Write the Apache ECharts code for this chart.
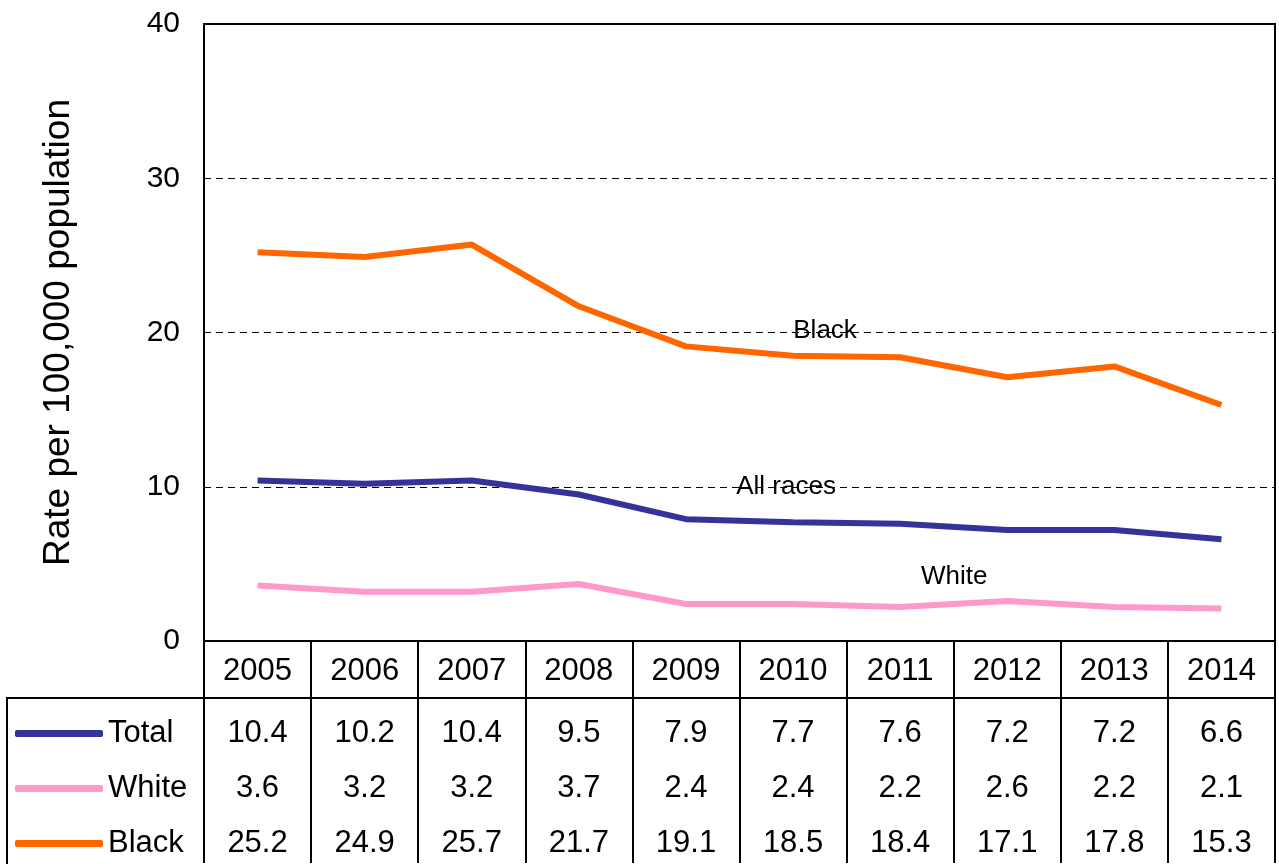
<!DOCTYPE html>
<html>
<head>
<meta charset="utf-8">
<script src="https://cdn.jsdelivr.net/npm/echarts@6/dist/echarts.min.js"></script>
<style>
html,body{margin:0;padding:0;background:#fff;}
#chart{width:1279px;height:864px;}
</style>
</head>
<body>
<div id="chart"></div>
<script>
var years = ['2005','2006','2007','2008','2009','2010','2011','2012','2013','2014'];
var totalRates = [10.4, 10.2, 10.4, 9.5, 7.9, 7.7, 7.6, 7.2, 7.2, 6.6];
var whiteRates = [3.6, 3.2, 3.2, 3.7, 2.4, 2.4, 2.2, 2.6, 2.2, 2.1];
var blackRates = [25.2, 24.9, 25.7, 21.7, 19.1, 18.5, 18.4, 17.1, 17.8, 15.3];
var seriesNames = ['Total', 'White', 'Black'];
var yTicks = [0, 10, 20, 30, 40];

var FONT = '"Liberation Sans", Arial, sans-serif';
var fmt = function (v) { return v.toFixed(1); };

var chart = echarts.init(document.getElementById('chart'));

function rowAxis(values, offset) {
  return {
    type: 'category',
    gridIndex: 0,
    position: 'bottom',
    offset: offset,
    data: values.map(fmt),
    boundaryGap: true,
    axisLine: { show: false },
    axisTick: { show: true, length: 55, interval: 0, lineStyle: { color: '#000', width: 2 } },
    axisLabel: { interval: 0, fontSize: 31, color: '#000', fontFamily: FONT, margin: 20 },
    splitLine: { show: false }
  };
}

var option = {
  backgroundColor: '#fff',
  animation: false,
  textStyle: { fontFamily: FONT },
  grid: { left: 204, right: 4, top: 24, bottom: 223, show: true, borderColor: '#000', borderWidth: 2, backgroundColor: 'transparent' },
  legend: {
    orient: 'vertical',
    left: 10,
    top: 713,
    icon: 'roundRect',
    itemWidth: 88,
    itemHeight: 7,
    itemGap: 24,
    data: seriesNames,
    textStyle: { fontSize: 31, color: '#000', fontFamily: FONT, lineHeight: 31 },
    selectedMode: false
  },
  xAxis: [
    {
      type: 'category',
      data: years,
      boundaryGap: true,
      axisLine: { show: true, lineStyle: { color: '#000', width: 2 } },
      axisTick: { show: true, length: 57, interval: 0, lineStyle: { color: '#000', width: 2 } },
      axisLabel: { interval: 0, fontSize: 31, color: '#000', fontFamily: FONT, margin: 15 },
      splitLine: { show: false }
    },
    Object.assign(rowAxis(totalRates, 57), { axisLine: { show: true, lineStyle: { color: '#000', width: 2 } } }),
    rowAxis(whiteRates, 112),
    rowAxis(blackRates, 167)
  ],
  yAxis: {
    type: 'value',
    min: yTicks[0],
    max: yTicks[yTicks.length - 1],
    interval: 10,
    name: 'Rate per 100,000 population',
    nameLocation: 'middle',
    nameGap: 127,
    nameTextStyle: { fontSize: 37, color: '#000', fontFamily: FONT },
    axisLine: { show: false },
    axisTick: { show: false },
    axisLabel: { fontSize: 30, color: '#000', fontFamily: FONT, margin: 24 },
    splitLine: { show: true, lineStyle: { color: '#000', width: 1, type: [7, 5] } }
  },
  graphic: [
    { type: 'line', shape: { x1: 7, y1: 698, x2: 205, y2: 698 }, style: { stroke: '#000', lineWidth: 2 } },
    { type: 'line', shape: { x1: 7, y1: 697, x2: 7, y2: 864 }, style: { stroke: '#000', lineWidth: 2 } }
  ],
  series: [
    {
      name: 'Total', type: 'line', xAxisIndex: 0, data: totalRates,
      symbol: 'none', lineStyle: { color: '#333399', width: 6 }, itemStyle: { color: '#333399' },
      markPoint: {
        symbol: 'rect', symbolSize: 1, itemStyle: { color: 'rgba(0,0,0,0)' },
        label: { show: true, position: 'inside', formatter: 'All races', color: '#000', fontSize: 26, fontFamily: FONT, offset: [-7, 0] },
        data: [{ coord: ['2010', 10] }]
      }
    },
    {
      name: 'White', type: 'line', xAxisIndex: 0, data: whiteRates,
      symbol: 'none', lineStyle: { color: '#FF99CC', width: 6 }, itemStyle: { color: '#FF99CC' },
      markPoint: {
        symbol: 'rect', symbolSize: 1, itemStyle: { color: 'rgba(0,0,0,0)' },
        label: { show: true, position: 'inside', formatter: 'White', color: '#000', fontSize: 26, fontFamily: FONT, offset: [54, 0] },
        data: [{ coord: ['2011', 4.15] }]
      }
    },
    {
      name: 'Black', type: 'line', xAxisIndex: 0, data: blackRates,
      symbol: 'none', lineStyle: { color: '#FF6600', width: 6 }, itemStyle: { color: '#FF6600' },
      markPoint: {
        symbol: 'rect', symbolSize: 1, itemStyle: { color: 'rgba(0,0,0,0)' },
        label: { show: true, position: 'inside', formatter: 'Black', color: '#000', fontSize: 26, fontFamily: FONT, offset: [32, 0] },
        data: [{ coord: ['2010', 20.1] }]
      }
    }
  ]
};
chart.setOption(option);
</script>
</body>
</html>
